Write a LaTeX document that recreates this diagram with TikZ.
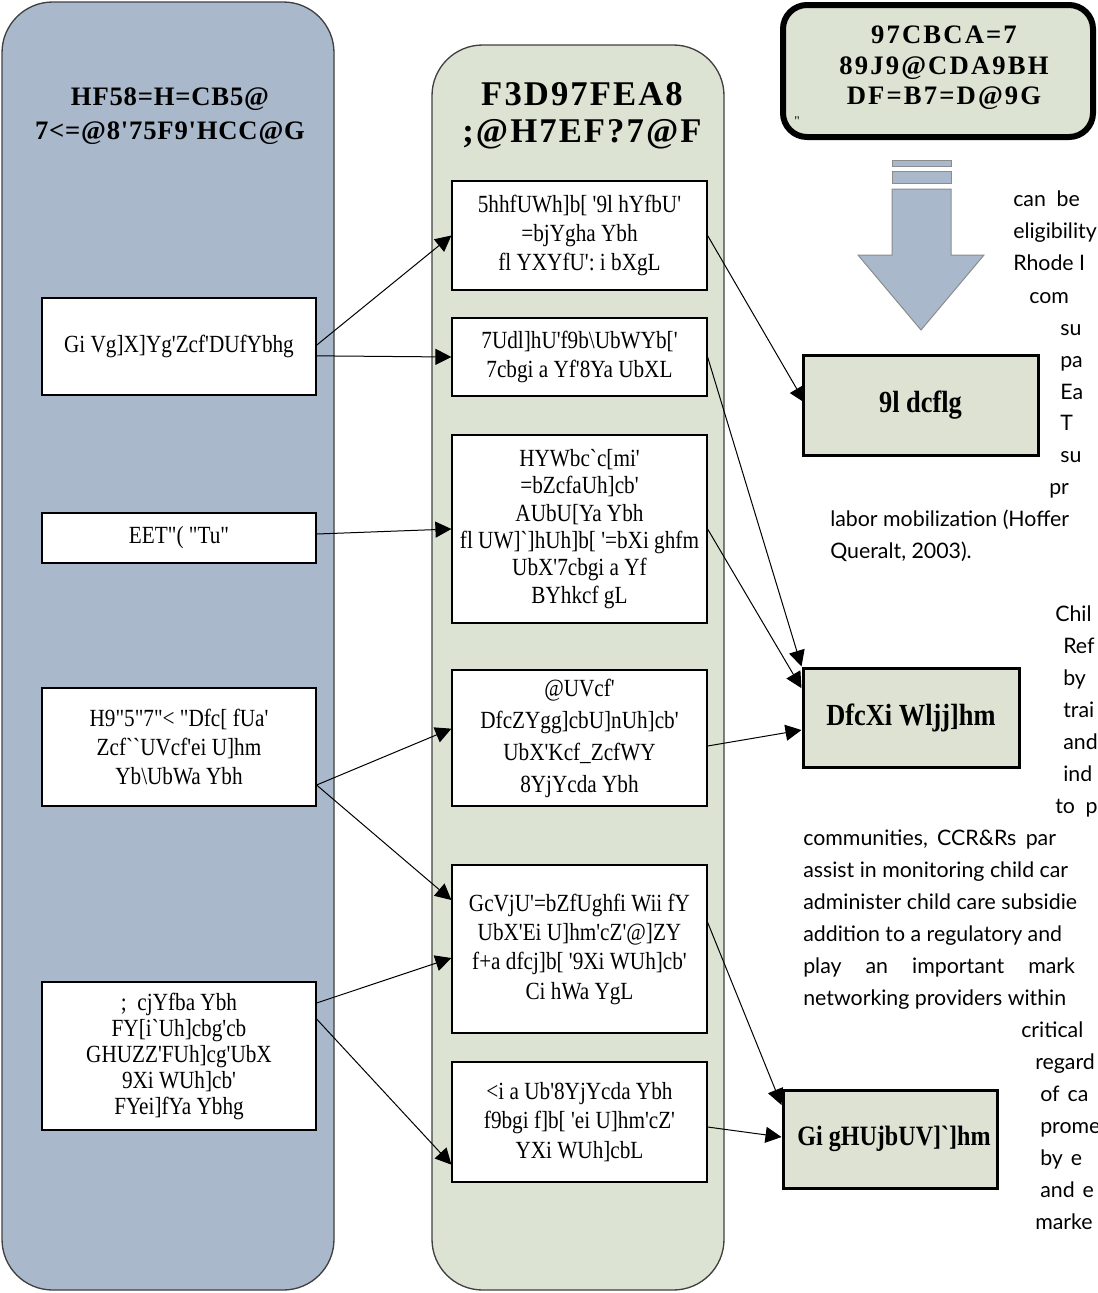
\documentclass[tikz,border=0pt]{standalone}
\usepackage{fontspec}
\newfontfamily\gf{Liberation Serif}
\newfontfamily\gfn{Liberation Serif}[FakeStretch=0.86]
\newfontfamily\bodyf{Lato}
\usetikzlibrary{arrows.meta}
\pgfdeclarelayer{bg}
\pgfdeclarelayer{arr}
\pgfsetlayers{bg,arr,main}
\definecolor{colblue}{RGB}{169,185,203}
\definecolor{colgreen}{RGB}{221,227,211}
\definecolor{boxgreen}{RGB}{222,226,210}
\begin{document}
\begin{tikzpicture}[x=0.75pt,y=-0.75pt,
  wbox/.style={draw=black,line width=0.9pt,fill=white,align=center,inner sep=0pt,font=\gfn\fontsize{18.5}{22}\selectfont},
  gbox/.style={draw=black,line width=2.25pt,fill=boxgreen,align=center,inner sep=0pt,font=\gfn\bfseries\fontsize{23}{28}\selectfont},
  hdr/.style={align=center,inner sep=0pt},
  conn/.style={-{Triangle[length=12pt,width=12pt]},line width=0.75pt},
  body/.style={anchor=base west,inner sep=0pt,font=\bodyf\fontsize{16}{24}\selectfont},
  column/.style={draw=black!75,line width=1pt,rounded corners=38pt}]
\useasboundingbox (0,0) rectangle (1098,1293);

\begin{pgfonlayer}{bg}
  \draw[column,fill=colblue] (2,2) rectangle (334,1290);
  \draw[column,fill=colgreen] (432,45) rectangle (724,1290);
\end{pgfonlayer}

% headers
\node[hdr,font=\gf\bfseries\fontsize{20}{25}\selectfont\addfontfeature{LetterSpace=3}] (lh) at (170,116) {HF58=H=CB5@\\7<=@8'75F9'HCC@G};
\node[hdr,font=\gf\bfseries\fontsize{26}{28}\selectfont\addfontfeature{LetterSpace=6}] (mh) at (582,116) {F3D97FEA8\\;@H7EF?7@F};

% top right box
\draw[line width=4.5pt,rounded corners=18pt,fill=colgreen] (783,5) rectangle (1093,137);
\node[hdr,font=\gf\bfseries\fontsize{20}{23}\selectfont\addfontfeature{LetterSpace=8}] (th) at (944,68) {97CBCA=7\\89J9@CDA9BH\\DF=B7=D@9G};
\node[inner sep=0pt,font=\gf\fontsize{10}{12}\selectfont] (tq) at (797,121) {"};

% down arrow
\draw[fill=colblue,draw=black!45,line width=0.75pt] (892,160) rectangle (951,166);
\draw[fill=colblue,draw=black!45,line width=0.75pt] (892,171) rectangle (951,183);
\draw[fill=colblue,draw=black!45,line width=0.75pt] (892,189) -- (951,189) -- (951,255) -- (984,255) -- (921,330) -- (858,255) -- (892,255) -- cycle;

% left boxes
\node[wbox,minimum width={274*0.75pt},minimum height={97*0.75pt}] (l1) at (179,346.5) {Gi Vg]X]Yg'Zcf'DUfYbhg};
\node[wbox,minimum width={274*0.75pt},minimum height={50*0.75pt}] (l2) at (179,538) {EET"( "Tu"};
\node[wbox,minimum width={274*0.75pt},minimum height={118*0.75pt}] (l3) at (179,747) {H9"5"7"< "Dfc[ fUa'\\Zcf``UVcf'ei U]hm\\Yb\textbackslash UbWa Ybh};
\node[wbox,minimum width={274*0.75pt},minimum height={148*0.75pt},font=\gfn\fontsize{18.5}{19.5}\selectfont] (l4) at (179,1056) {; \ cjYfba Ybh\\FY[i`Uh]cbg'cb\\GHUZZ'FUh]cg'UbX\\9Xi WUh]cb'\\FYei]fYa Ybhg};

% middle boxes
\node[wbox,minimum width={255*0.75pt},minimum height={109*0.75pt}] (m1) at (579.5,235.5) {5hhfUWh]b[ '9l hYfbU'\\=bjYgha Ybh\\fl YXYfU': i bXgL};
\node[wbox,minimum width={255*0.75pt},minimum height={78*0.75pt}] (m2) at (579.5,357) {7Udl]hU'f9b\textbackslash UbWYb['\\7cbgi a Yf'8Ya UbXL};
\node[wbox,minimum width={255*0.75pt},minimum height={188*0.75pt},font=\gfn\fontsize{18.5}{20.5}\selectfont] (m3) at (579.5,529) {HYWbc`c[mi'\\=bZcfaUh]cb'\\AUbU[Ya Ybh\\fl UW]`]hUh]b[ '=bXi ghfm\\UbX'7cbgi a Yf\\BYhkcf gL};
\node[wbox,minimum width={255*0.75pt},minimum height={136*0.75pt},font=\gfn\fontsize{18.5}{24}\selectfont] (m4) at (579.5,738) {@UVcf'\\DfcZYgg]cbU]nUh]cb'\\UbX'Kcf\_ZcfWY\\8YjYcda Ybh};
\node[wbox,minimum width={255*0.75pt},minimum height={168*0.75pt}] (m5) at (579.5,949) {GcVjU'=bZfUghfi Wii fY\\UbX'Ei U]hm'cZ'@]ZY\\f+a dfcj]b[ '9Xi WUh]cb'\\Ci hWa YgL};
\node[wbox,minimum width={255*0.75pt},minimum height={120*0.75pt}] (m6) at (579.5,1122) {<i a Ub'8YjYcda Ybh\\f9bgi f]b[ 'ei U]hm'cZ'\\YXi WUh]cbL};

% right boxes
\node[gbox,minimum width={235*0.75pt},minimum height={100*0.75pt}] (r1) at (920.5,405) {9l dcflg};
\node[gbox,minimum width={216*0.75pt},minimum height={99*0.75pt}] (r2) at (911,717.5) {DfcXi Wljj]hm};
\node[gbox,minimum width={214*0.75pt},minimum height={98*0.75pt},font=\gfn\bfseries\fontsize{21}{28}\selectfont] (r3) at (890,1139) {\hspace{6pt}Gi gHUjbUV]`]hm};

% connectors
\begin{pgfonlayer}{arr}
  \draw[conn] ([yshift=1pt]l1.east) -- (m1.west);
  \draw[conn] ([yshift=-7pt]l1.east) -- (m2.west);
  \draw[conn] ([yshift=3pt]l2.east) -- (m3.west);
  \draw[conn] ([yshift=-28.5pt]l3.east) -- ([yshift=7pt]m4.west);
  \draw[conn] ([yshift=-28.5pt]l3.east) -- ([yshift=36.75pt]m5.west);
  \draw[conn] ([yshift=39.75pt]l4.east) -- ([yshift=-6.75pt]m5.west);
  \draw[conn] ([yshift=27.75pt]l4.east) -- ([yshift=-32pt]m6.west);
  \draw[conn,shorten >=-5pt] (m1.east) -- ([yshift=6pt]r1.west);
  \draw[conn] (m2.east) -- (r2.north west);
  \draw[conn] (m3.east) -- ([yshift=22pt]r2.west);
  \draw[conn] ([yshift=-6pt]m4.east) -- ([yshift=-9.4pt]r2.west);
  \draw[conn] ([yshift=20pt]m5.east) -- ([yshift=25.5pt]r3.west);
  \draw[conn] ([yshift=-3.75pt]m6.east) -- ([yshift=1.5pt]r3.west);
\end{pgfonlayer}

% body text (clipped at the right edge, as in the reference)
\begin{scope}
\clip (0,0) rectangle (1098,1293);
\foreach \x/\y/\t [count=\i] in {
  1013/206/{can\hspace{8pt}be},
  1013/238/{eligibility},
  1013/270/{Rhode I},
  1029/303/{com},
  1060/335/{su},
  1060/367/{pa},
  1060/399/{Ea},
  1060/430/{T},
  1060/462/{su},
  1049/494/{pr},
  830/526/{labor mobilization (Hoffer},
  830/558/{Queralt, 2003).},
  1055/621/{Chil},
  1063/653/{Ref},
  1063/685/{by},
  1063/717/{trai},
  1063/749/{and},
  1063/781/{ind},
  1055/813/{to\hspace{8pt}p},
  803/845/{communities,\hspace{7pt}CCR\&Rs\hspace{7pt}par},
  803/877/{assist in monitoring child car},
  803/909/{administer child care subsidie},
  803/941/{addition to a regulatory and},
  803/973/{play\hspace{18pt}an\hspace{18pt}important\hspace{18pt}mark},
  803/1005/{networking providers within},
  1021/1037/{critical},
  1035/1069/{regard},
  1040/1101/{of\hspace{6pt}ca},
  1040/1133/{prome},
  1040/1165/{by\hspace{6pt}e},
  1040/1197/{and\hspace{6pt}e},
  1035/1229/{marke}}
  \node[body] (t\i) at (\x,\y) {\t};
\end{scope}
\end{tikzpicture}
\end{document}
